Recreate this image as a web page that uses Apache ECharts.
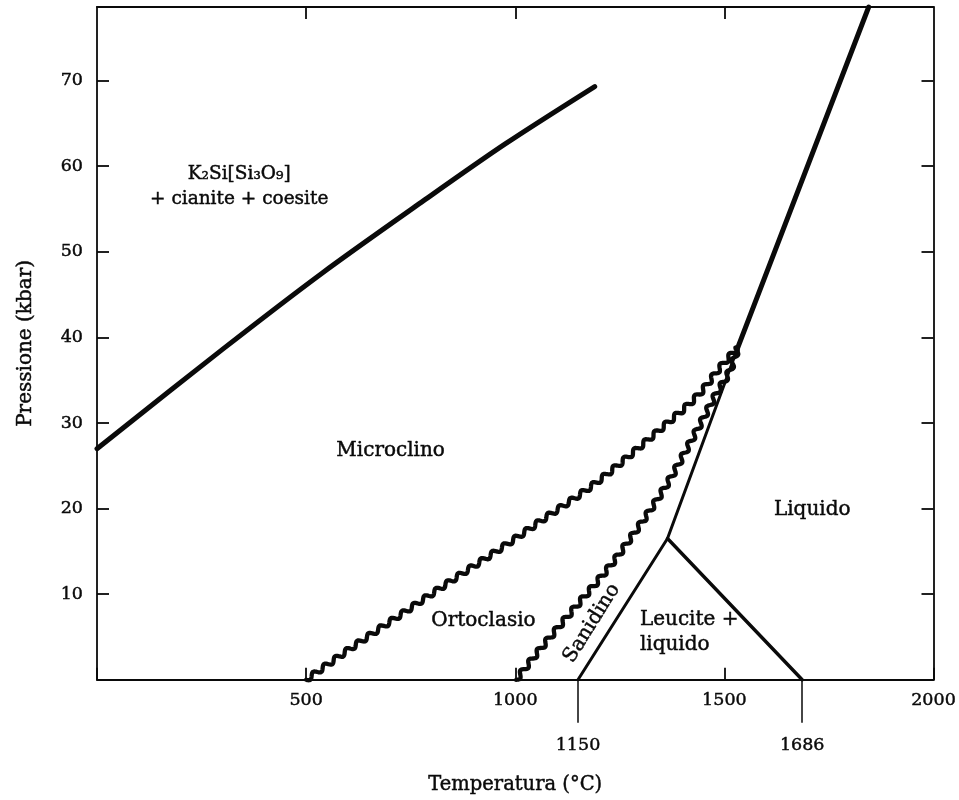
<!DOCTYPE html>
<html>
<head>
<meta charset="utf-8">
<script src="https://cdn.jsdelivr.net/npm/echarts@6/dist/echarts.min.js"></script>
<style>
  html, body { margin: 0; padding: 0; background: #fff; }
  #chart { width: 959px; height: 800px; }
</style>
</head>
<body>
<div id="chart"></div>
<script>
// Pressure–temperature phase diagram of KAlSi3O8 (feldspar polymorphs and melting)

const xTicks = [500, 1000, 1500, 2000];
const xSpecialTicks = [1150, 1686];
const yTicks = [10, 20, 30, 40, 50, 60, 70];

// K2Si[Si3O9] + cianite + coesite  /  microclino boundary
const highPressureBoundary = [[0, 27.0], [300, 38.6], [538, 47.5], [776, 55.8], [976, 62.6], [1190, 69.3]];

// microclino / ortoclasio transition (gradual, drawn wavy)
const microclineOrthoclase = [[500, 0], [619, 4.1], [738, 8.0], [857, 11.9], [976, 15.7], [1071, 18.9],
  [1198, 23.2], [1357, 29.7], [1436, 33.2], [1490, 36.5], [1532, 38.8]];

// ortoclasio / sanidino transition (gradual, drawn wavy)
const orthoclaseSanidine = [[1002, 0], [1060, 3.6], [1130, 7.7], [1205, 12.0], [1262, 15.6], [1357, 22.4],
  [1436, 29.3], [1476, 33.0], [1512, 36.0], [1532, 38.8]];

// sanidino melting: incongruent (to leucite) then congruent
const sanidineMelting = [[1150, 0], [1364, 16.5], [1532, 38.8]];
const liquidus = [[1532, 38.8], [1845, 78.6]];
const leuciteLiquidus = [[1364, 16.5], [1686, 0]];

// field names and where they sit (data coordinates)
const fieldNames = ['K₂Si[Si₃O₉]\n+ cianite + coesite', 'Microclino', 'Ortoclasio', 'Sanidino', 'Leucite +\nliquido', 'Liquido'];
const fieldAnchors = [[340, 57.6], [702, 26.8], [924, 6.9], [1183, 6.6], [1298, 5.5], [1710, 19.9]];

const INK = '#0a0a0a';
const FONT = '"DejaVu Serif", "Liberation Serif", serif';

const fieldStyles = {
  'K₂Si[Si₃O₉]\n+ cianite + coesite': { fontSize: 18.5, lineHeight: 25, align: 'center' },
  'Sanidino': { rotate: 58 },
  'Leucite +\nliquido': { align: 'left', lineHeight: 25 }
};

// smooth pixel-space path through control points
function catmullRom(pts, steps) {
  const out = [];
  for (let i = 0; i < pts.length - 1; i++) {
    const p0 = pts[i - 1] || pts[i], p1 = pts[i], p2 = pts[i + 1], p3 = pts[i + 2] || pts[i + 1];
    for (let s = 0; s < steps; s++) {
      const t = s / steps, t2 = t * t, t3 = t2 * t;
      out.push([0, 1].map(k => 0.5 * ((2 * p1[k]) + (-p0[k] + p2[k]) * t +
        (2 * p0[k] - 5 * p1[k] + 4 * p2[k] - p3[k]) * t2 +
        (-p0[k] + 3 * p1[k] - 3 * p2[k] + p3[k]) * t3)));
    }
  }
  out.push(pts[pts.length - 1].slice());
  return out;
}

// ripple a path sideways to give the "wavy" transition stroke
function ripple(path, wavelength, amp) {
  const cum = [0];
  for (let i = 1; i < path.length; i++) {
    cum.push(cum[i - 1] + Math.hypot(path[i][0] - path[i - 1][0], path[i][1] - path[i - 1][1]));
  }
  const total = cum[cum.length - 1];
  const out = [];
  let j = 1;
  for (let s = 0; s <= total; s += 0.8) {
    while (j < path.length - 1 && cum[j] < s) j++;
    const a = path[j - 1], b = path[j];
    const seg = cum[j] - cum[j - 1] || 1;
    const f = Math.min(1, Math.max(0, (s - cum[j - 1]) / seg));
    const dx = (b[0] - a[0]) / seg, dy = (b[1] - a[1]) / seg;
    const off = amp * Math.sin(2 * Math.PI * s / wavelength);
    out.push([a[0] + (b[0] - a[0]) * f - dy * off, a[1] + (b[1] - a[1]) * f + dx * off]);
  }
  return out;
}

function wavySeries(points) {
  return {
    type: 'custom',
    coordinateSystem: 'cartesian2d',
    data: points,
    encode: { x: 0, y: 1 },
    clip: false,
    silent: true,
    z: 3,
    renderItem: function (params, api) {
      if (params.dataIndex !== 0) return null;
      const ctrl = points.map(p => api.coord(p));
      const wavy = ripple(catmullRom(ctrl, 30), 13.5, 2.5);
      return {
        type: 'polyline',
        shape: { points: wavy },
        style: { fill: null, stroke: INK, lineWidth: 4.3, lineJoin: 'round', lineCap: 'round' }
      };
    }
  };
}

function lineSeries(points, width, smooth) {
  return {
    type: 'line',
    data: points,
    showSymbol: false,
    symbol: 'none',
    smooth: smooth || false,
    silent: true,
    clip: false,
    z: 3,
    lineStyle: { color: INK, width: width, cap: 'round', join: 'round' }
  };
}

// slight outline thickens the type so it reads like printed ink
const inked = { color: INK, textBorderColor: INK, textBorderWidth: 0.45 };
const axisLineStyle = { color: INK, width: 1.8 };
const tickText = Object.assign({ fontFamily: FONT, fontSize: 17.5 }, inked);

const chart = echarts.init(document.getElementById('chart'), null, { renderer: 'canvas' });

chart.setOption({
  animation: false,
  backgroundColor: '#fff',
  grid: { left: 97, right: 19, top: 7, bottom: 118, containLabel: false },
  xAxis: [
    {
      type: 'value', position: 'bottom', min: 0, max: 2000, interval: 500,
      axisLine: { show: true, onZero: false, lineStyle: axisLineStyle },
      axisTick: { show: true, inside: true, length: 12, lineStyle: axisLineStyle },
      axisLabel: Object.assign({
        margin: 12,
        customValues: xTicks,
        formatter: v => String(v)
      }, tickText),
      splitLine: { show: false },
      name: 'Temperatura (°C)',
      nameLocation: 'middle',
      nameGap: 95,
      nameTextStyle: Object.assign({ fontFamily: FONT, fontSize: 19.5 }, inked)
    },
    {
      type: 'value', position: 'bottom', min: 0, max: 2000,
      axisLine: { show: false },
      axisTick: { show: true, inside: false, length: 43, customValues: xSpecialTicks, lineStyle: { color: INK, width: 1.5 } },
      axisLabel: Object.assign({ margin: 57, customValues: xSpecialTicks, formatter: v => String(v) }, tickText),
      splitLine: { show: false }
    },
    {
      type: 'value', position: 'top', min: 0, max: 2000, interval: 500,
      axisLine: { show: true, onZero: false, lineStyle: axisLineStyle },
      axisTick: { show: true, inside: true, length: 12, customValues: [500, 1000, 1500], lineStyle: axisLineStyle },
      axisLabel: { show: false },
      splitLine: { show: false }
    }
  ],
  yAxis: [
    {
      type: 'value', position: 'left', min: 0, max: 78.6, interval: 10,
      axisLine: { show: true, onZero: false, lineStyle: axisLineStyle },
      axisTick: { show: true, inside: true, length: 12, customValues: yTicks, lineStyle: axisLineStyle },
      axisLabel: Object.assign({ margin: 14, customValues: yTicks, formatter: v => String(v) }, tickText),
      splitLine: { show: false },
      name: 'Pressione (kbar)',
      nameLocation: 'middle',
      nameGap: 61,
      nameTextStyle: Object.assign({ fontFamily: FONT, fontSize: 20 }, inked)
    },
    {
      type: 'value', position: 'right', min: 0, max: 78.6, interval: 10,
      axisLine: { show: true, onZero: false, lineStyle: axisLineStyle },
      axisTick: { show: true, inside: true, length: 12, customValues: yTicks, lineStyle: axisLineStyle },
      axisLabel: { show: false },
      splitLine: { show: false }
    }
  ],
  series: [
    lineSeries(highPressureBoundary, 5, 0.3),
    wavySeries(microclineOrthoclase),
    wavySeries(orthoclaseSanidine),
    lineSeries(sanidineMelting, 3, false),
    lineSeries(liquidus, 5, false),
    lineSeries(leuciteLiquidus, 3.4, false),
    {
      type: 'scatter',
      symbolSize: 0,
      silent: true,
      z: 5,
      itemStyle: { opacity: 1 },
      data: fieldNames.map((name, i) => ({
        name: name,
        value: fieldAnchors[i],
        label: Object.assign({
          show: true,
          position: 'inside',
          formatter: '{b}',
          fontFamily: FONT,
          fontSize: 20,
          align: 'center',
          verticalAlign: 'middle'
        }, inked, fieldStyles[name] || {})
      }))
    }
  ]
});
</script>
</body>
</html>
